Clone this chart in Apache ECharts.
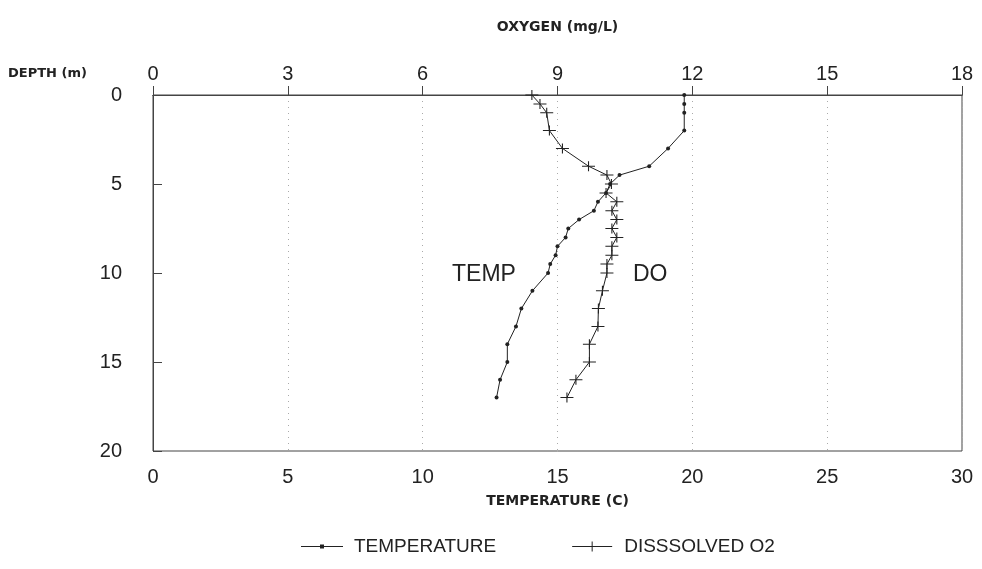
<!DOCTYPE html>
<html>
<head>
<meta charset="utf-8">
<script src="https://cdn.jsdelivr.net/npm/echarts@6/dist/echarts.min.js"></script>
<style>
  html, body { margin: 0; padding: 0; background: #fff; }
  #chart { width: 982px; height: 569px; }
</style>
</head>
<body>
<div id="chart"></div>
<script>
// Depth profile: water temperature and dissolved oxygen versus depth
const tempDepths = [0, 0.5, 1, 2, 3, 4, 4.5, 5, 5.5, 6, 6.5, 7, 7.5, 8, 8.5, 9, 9.5, 10, 11, 12, 13, 14, 15, 16, 17];
const tempValues = [19.7, 19.7, 19.7, 19.7, 19.1, 18.4, 17.3, 16.95, 16.8, 16.5, 16.35, 15.8, 15.4, 15.3, 15.0, 14.93, 14.73, 14.65, 14.07, 13.66, 13.46, 13.14, 13.14, 12.87, 12.74];

const doDepths = [0, 0.5, 1, 2, 3, 4, 4.5, 5, 5.5, 6, 6.5, 7, 7.5, 8, 8.5, 9, 9.5, 10, 11, 12, 13, 14, 15, 16, 17];
const doValues = [8.43, 8.61, 8.76, 8.82, 9.11, 9.69, 10.1, 10.2, 10.08, 10.32, 10.21, 10.32, 10.21, 10.32, 10.21, 10.21, 10.1, 10.1, 10.0, 9.91, 9.9, 9.71, 9.71, 9.41, 9.21];

const tempTicks = [0, 5, 10, 15, 20, 25, 30];
const oxygenTicks = [0, 3, 6, 9, 12, 15, 18];
const depthTicks = [0, 5, 10, 15, 20];

const ink = '#222';
const tickFont = { fontFamily: 'Liberation Sans, Arial, sans-serif', fontSize: 20, color: ink };
const nameFont = { fontFamily: 'DejaVu Sans, sans-serif', fontSize: 14, fontWeight: 'bold', color: ink };

const chart = echarts.init(document.getElementById('chart'), null, { renderer: 'canvas' });

const dotIcon = 'path://M0,4.6H42V5.4H0Z M19,3H23V7H19Z';
const crossIcon = 'path://M0,4.6H40V5.4H0Z M19.5,0H20.5V10H19.5Z';

chart.setOption({
  backgroundColor: '#fff',
  animation: false,
  grid: {
    left: 153, right: 20, top: 95, bottom: 118,
    show: true, borderColor: '#444', borderWidth: 1, backgroundColor: 'transparent'
  },
  legend: {
    top: 532,
    left: 296,
    itemGap: 76,
    itemWidth: 42,
    itemHeight: 10,
    textStyle: { fontFamily: 'Liberation Sans, Arial, sans-serif', fontSize: 19, color: ink, padding: [0, 0, 0, 6] },
    data: [
      { name: 'TEMPERATURE', icon: dotIcon },
      { name: 'DISSSOLVED O2', icon: crossIcon }
    ]
  },
  xAxis: [
    {
      type: 'value', position: 'bottom',
      min: tempTicks[0], max: tempTicks[tempTicks.length - 1], interval: 5,
      name: 'TEMPERATURE (C)', nameLocation: 'middle', nameGap: 43,
      nameTextStyle: nameFont,
      axisLine: { show: true, lineStyle: { color: '#444', width: 1 } },
      axisTick: { show: true, inside: true, length: 9, lineStyle: { color: '#444' } },
      axisLabel: Object.assign({ margin: 16 }, tickFont),
      splitLine: { show: true, lineStyle: { color: '#aaa', type: [1, 5], width: 1 } }
    },
    {
      type: 'value', position: 'top',
      min: oxygenTicks[0], max: oxygenTicks[oxygenTicks.length - 1], interval: 3,
      name: 'OXYGEN (mg/L)', nameLocation: 'middle', nameGap: 61,
      nameTextStyle: nameFont,
      axisLine: { show: true, lineStyle: { color: '#444', width: 1 } },
      axisTick: { show: false },
      axisLabel: Object.assign({ margin: 11 }, tickFont),
      splitLine: { show: false }
    }
  ],
  yAxis: {
    type: 'value', inverse: true,
    min: depthTicks[0], max: depthTicks[depthTicks.length - 1], interval: 5,
    axisLine: { show: true, lineStyle: { color: '#444', width: 1 } },
    axisTick: { show: true, inside: true, length: 9, lineStyle: { color: '#444' } },
    axisLabel: Object.assign({ margin: 31 }, tickFont),
    splitLine: { show: false }
  },
  graphic: [
    { type: 'text', left: 8, top: 67, style: { text: 'DEPTH (m)', font: 'bold 13px "DejaVu Sans", sans-serif', fill: ink } },
    { type: 'text', left: 452, top: 263, style: { text: 'TEMP', font: '23px "Liberation Sans", Arial, sans-serif', fill: ink } },
    { type: 'text', left: 633, top: 263, style: { text: 'DO', font: '23px "Liberation Sans", Arial, sans-serif', fill: ink } }
  ],
  series: [
    {
      name: 'TEMPERATURE', type: 'line',
      xAxisIndex: 0, yAxisIndex: 0,
      data: tempDepths.map((d, i) => [tempValues[i], d]),
      symbol: 'circle', symbolSize: 4,
      itemStyle: { color: ink },
      lineStyle: { color: ink, width: 1 }
    },
    {
      name: 'DISSSOLVED O2', type: 'line',
      xAxisIndex: 1, yAxisIndex: 0,
      data: doDepths.map((d, i) => [doValues[i], d]),
      symbol: 'path://M0,4.5H12V5.5H0Z M5.5,0H6.5V10H5.5Z', symbolSize: [13, 10],
      symbolKeepAspect: false,
      itemStyle: { color: ink },
      lineStyle: { color: ink, width: 1 }
    }
  ]
});
</script>
</body>
</html>
